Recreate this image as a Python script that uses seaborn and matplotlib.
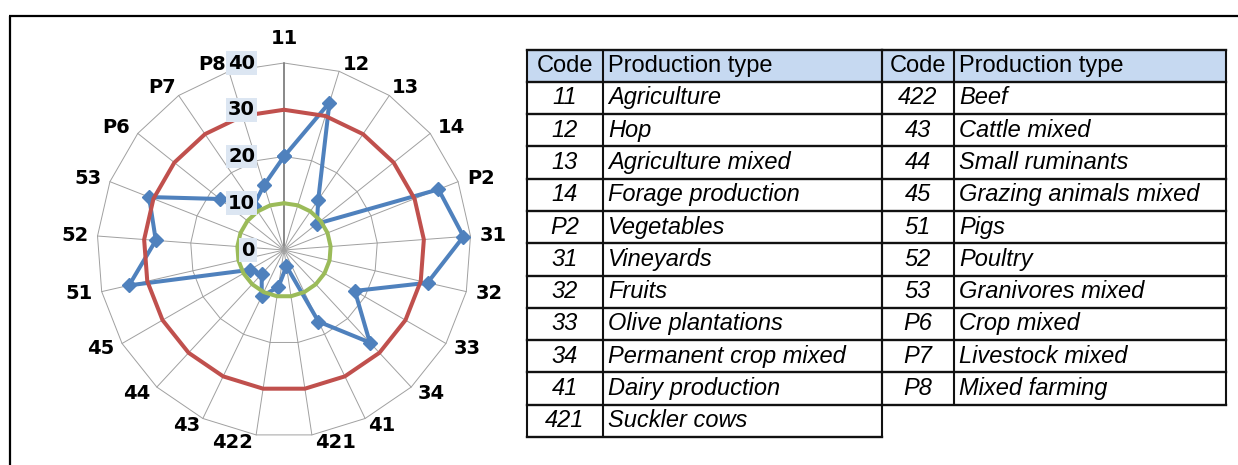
import numpy as np
import pandas as pd
import matplotlib
matplotlib.use("Agg")
import matplotlib.pyplot as plt
import seaborn as sns

# radar categories, clockwise from the top
codes = ['11', '12', '13', '14', 'P2', '31', '32', '33', '34', '41', '421',
         '422', '43', '44', '45', '51', '52', '53', 'P6', 'P7', 'P8']
values = [20, 33, 13, 9, 35.5, 38.5, 31.5, 17.5, 27, 17, 3.5,
          8, 11, 7, 8.5, 34, 27.5, 31, 17.5, 11.5, 14.5]
upper_limit = 30
lower_limit = 10
r_ticks = [0, 10, 20, 30, 40]

# legend table
left_codes = ['11', '12', '13', '14', 'P2', '31', '32', '33', '34', '41', '421']
left_types = ['Agriculture', 'Hop', 'Agriculture mixed', 'Forage production',
              'Vegetables', 'Vineyards', 'Fruits', 'Olive plantations',
              'Permanent crop mixed', 'Dairy production', 'Suckler cows']
right_codes = ['422', '43', '44', '45', '51', '52', '53', 'P6', 'P7', 'P8']
right_types = ['Beef', 'Cattle mixed', 'Small ruminants', 'Grazing animals mixed',
               'Pigs', 'Poultry', 'Granivores mixed', 'Crop mixed',
               'Livestock mixed', 'Mixed farming']

BLUE = '#4f81bd'
RED = '#c0504d'
GREEN = '#9bbb59'
HEAD_BG = '#c6d9f1'

sns.set_style("white")
plt.rcParams['font.family'] = ['DejaVu Sans']
plt.rcParams['text.color'] = 'black'

W, H = 1238, 465
fig = plt.figure(figsize=(W / 100, H / 100), dpi=100)

# ---- background axes in pixel coords (frame + table) ----
bg = fig.add_axes([0, 0, 1, 1])
bg.set_xlim(0, W)
bg.set_ylim(H, 0)
bg.axis('off')
bg.plot([9, W], [16, 16], color='black', lw=1.6, solid_capstyle='butt')
bg.plot([10, 10], [16, H], color='black', lw=1.6, solid_capstyle='butt')

top = 50
head_h = 31.7
row_h = 32.3
tfont = dict(family='Liberation Sans', fontsize=17, color='black')
line_c = '#111111'


def draw_table(x0, x1, x2, cds, types):
    bottom = top + head_h + row_h * len(cds)
    bg.add_patch(plt.Rectangle((x0, top), x2 - x0, head_h, facecolor=HEAD_BG,
                               edgecolor='none', zorder=1))
    ys = [top, top + head_h] + [top + head_h + row_h * (i + 1) for i in range(len(cds))]
    for y in ys:
        bg.plot([x0, x2], [y, y], color=line_c, lw=1.7, zorder=3,
                solid_capstyle='projecting')
    for x in (x0, x1, x2):
        bg.plot([x, x], [top, bottom], color=line_c, lw=1.5, zorder=3)
    yc = top + head_h / 2
    bg.text((x0 + x1) / 2, yc, 'Code', ha='center', va='center', **tfont)
    bg.text(x1 + 5, yc, 'Production type', ha='left', va='center', **tfont)
    for i, (c, t) in enumerate(zip(cds, types)):
        y = top + head_h + row_h * (i + 0.5)
        bg.text((x0 + x1) / 2, y, c, ha='center', va='center', style='italic', **tfont)
        bg.text(x1 + 5, y, t, ha='left', va='center', style='italic', **tfont)


draw_table(527, 603, 882, left_codes, left_types)
draw_table(882, 954, 1226, right_codes, right_types)

# ---- radar chart ----
cx, cy, rad = 284, 250, 187
ax = fig.add_axes([(cx - rad) / W, (H - cy - rad) / H, 2 * rad / W, 2 * rad / H],
                  projection='polar')
ax.set_theta_zero_location('N')
ax.set_theta_direction(-1)
ax.patch.set_alpha(0)

theta = np.linspace(0, 2 * np.pi, len(codes), endpoint=False)
theta_c = np.append(theta, 2 * np.pi)

# spider-web grid
for v in r_ticks[1:]:
    ax.plot(theta_c, np.full(len(theta_c), v), color='#a0a0a0', lw=0.7,
            clip_on=False, zorder=1)
for i, t in enumerate(theta):
    ax.plot([t, t], [0, r_ticks[-1]], color='#7f7f7f' if i == 0 else '#a0a0a0',
            lw=1.3 if i == 0 else 0.7, clip_on=False, zorder=1)

df = pd.DataFrame({'theta': theta_c, 'value': np.append(values, values[0])})
sns.lineplot(data=df, x='theta', y='value', sort=False, estimator=None, ax=ax,
             color=BLUE, linewidth=2.9, marker='D', markersize=7.5,
             markeredgecolor=BLUE, markeredgewidth=1, legend=False,
             clip_on=False, zorder=3)
ref = pd.DataFrame({'theta': theta_c,
                    'upper': np.full(len(theta_c), upper_limit),
                    'lower': np.full(len(theta_c), lower_limit)})
sns.lineplot(data=ref, x='theta', y='upper', sort=False, estimator=None, ax=ax,
             color=RED, linewidth=2.9, legend=False, clip_on=False, zorder=4)
sns.lineplot(data=ref, x='theta', y='lower', sort=False, estimator=None, ax=ax,
             color=GREEN, linewidth=2.9, legend=False, clip_on=False, zorder=4)

ax.set_ylim(0, 40)
ax.grid(False)
ax.spines['polar'].set_visible(False)
ax.set_xticks([])
ax.set_yticks([])
ax.set_xlabel('')
ax.set_ylabel('')

lab_font = dict(family='DejaVu Sans', fontsize=14, fontweight='bold', color='black')

# category labels around the web
for t, lab in zip(theta, codes):
    s, c = np.sin(t), np.cos(t)
    ha = 'left' if s > 0.05 else ('right' if s < -0.05 else 'center')
    if c > 0.8:
        va = 'bottom'
    elif c < -0.8:
        va = 'top'
    else:
        va = 'center'
    dx = 0
    if ha == 'center':
        r = 43.3
    elif va == 'center':
        r = 42
    else:
        r = 39.5
        dx = 4 if ha == 'left' else -4
    ax.annotate(lab, xy=(t, r), xytext=(dx, 0), textcoords='offset pixels',
                ha=ha, va=va, zorder=5, annotation_clip=False, **lab_font)

# value axis labels
for v in r_ticks:
    ax.annotate(str(v), xy=(0, v), xytext=(-29, 0), textcoords='offset pixels',
                ha='right', va='center', zorder=6, annotation_clip=False,
                bbox=dict(boxstyle='square,pad=0.12', facecolor='#dce6f2',
                          edgecolor='none'), **lab_font)

fig.savefig('out.png', dpi=100)
